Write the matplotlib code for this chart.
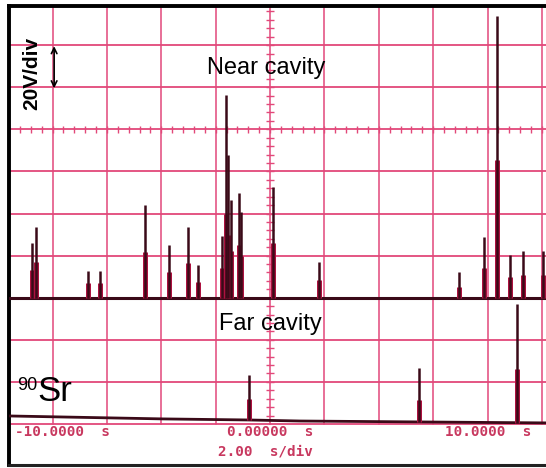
import numpy as np
import matplotlib
matplotlib.use("Agg")
import matplotlib.pyplot as plt

# time of each pulse (s) and height above the trace baseline (V)
near_t = [-8.74, -8.60, -6.69, -6.25, -4.60, -3.71, -3.01, -2.65, -1.76, -1.62, -1.53,
          -1.43, -1.14, -1.07, 0.11, 1.80, 6.95, 7.87, 8.35, 8.82, 9.30, 10.04]
near_peak = [26.0, 33.6, 12.7, 12.7, 44.0, 25.0, 33.6, 15.5, 29.3, 96.3, 67.8,
             46.4, 49.7, 40.7, 52.6, 17.0, 12.2, 28.8, 133.8, 20.3, 22.2, 22.2]
near_shoulder = [13.2, 17.0, 7.0, 7.0, 21.7, 12.2, 16.5, 7.5, 14.0, 40.0, 30.0,
                 22.0, 25.0, 20.0, 26.0, 8.4, 5.1, 14.1, 65.4, 9.8, 10.8, 10.8]
near_base = 60.0

far_t = [-0.77, 5.48, 9.08]
far_peak = [21.4, 25.5, 56.5]
far_shoulder = [10.0, 10.5, 25.5]
far_base_t = [-9.6, -3.93, -0.81, 1.1, 10.15]
far_base_v = [3.8, 2.4, 1.9, 1.4, 0.5]

x_labels = ["-10.0000  s", "0.00000  s", "10.0000  s"]
x_label_pos = [-9.37, -1.59, 6.43]

grid_c = "#e2487a"
dark = "#3a0a18"
crimson = "#ad1240"
scope_txt = "#c8385f"

fig = plt.figure(figsize=(5.46, 4.68), dpi=100)
ax = fig.add_axes([9/546, 3/468, 1 - 9/546, 459/468])
ax.set_xlim(-9.6, 10.15)
ax.set_ylim(-19.5, 198.6)

# graticule
for v in range(0, 200, 20):
    ax.axhline(v, color=grid_c, lw=1.3, zorder=1)
for t in range(-8, 11, 2):
    ax.plot([t, t], [0, 198.6], color=grid_c, lw=1.1, zorder=1)
tk = np.arange(-9.6, 10.2, 0.4)
ax.vlines(tk, 140 - 1.6, 140 + 1.6, color=grid_c, lw=1.0, zorder=1)
vk = np.arange(4, 198, 4)
ax.hlines(vk, -0.13, 0.13, color=grid_c, lw=1.0, zorder=1)

# near cavity trace
ax.plot([-9.6, 10.15], [near_base, near_base], color=dark, lw=2.2, zorder=3)
nb = [near_base] * len(near_t)
ax.vlines(near_t, nb, [near_base + s for s in near_shoulder], color=crimson, lw=3.6, zorder=3)
ax.vlines(near_t, nb, [near_base + p for p in near_peak], color=dark, lw=1.8, zorder=4)

# far cavity trace
ax.plot(far_base_t, far_base_v, color=dark, lw=2.0, zorder=3)
fb = np.interp(far_t, far_base_t, far_base_v)
ax.vlines(far_t, fb, fb + np.array(far_shoulder), color=crimson, lw=3.6, zorder=3)
ax.vlines(far_t, fb, fb + np.array(far_peak), color=dark, lw=1.8, zorder=4)

# annotations
ax.text(-0.15, 169, "Near cavity", fontsize=17, family="Liberation Sans",
        ha="center", va="center", zorder=5)
ax.text(0.0, 47.5, "Far cavity", fontsize=17, family="Liberation Sans",
        ha="center", va="center", zorder=5)
ax.text(-8.75, 166.7, "20V/div", fontsize=15, family="Liberation Sans", weight="bold",
        rotation=90, ha="center", va="center", zorder=5)
ax.annotate("", xy=(-7.94, 179.5), xytext=(-7.94, 159.5),
            arrowprops=dict(arrowstyle="<->", color="black", lw=1.2,
                            shrinkA=0, shrinkB=0), zorder=5)
ax.text(-9.30, 16.0, "90", fontsize=13, family="Liberation Sans", va="baseline", zorder=5)
ax.text(-8.55, 10.9, "Sr", fontsize=25, family="Liberation Sans", va="baseline", zorder=5)

for lab, xp in zip(x_labels, x_label_pos):
    ax.text(xp, -3.8, lab, fontsize=10.3, family="DejaVu Sans Mono", weight="bold",
            color=scope_txt, ha="left", va="center")
ax.text(-1.91, -13.3, "2.00  s/div", fontsize=10.3, family="DejaVu Sans Mono",
        weight="bold", color=scope_txt, ha="left", va="center")

ax.set_xticks([])
ax.set_yticks([])
for side in ["left", "top"]:
    ax.spines[side].set_linewidth(2.8)
    ax.spines[side].set_color("black")
ax.spines["bottom"].set_linewidth(2.2)
ax.spines["bottom"].set_color("#222222")
ax.spines["right"].set_visible(False)

fig.savefig("out.png", dpi=100)
